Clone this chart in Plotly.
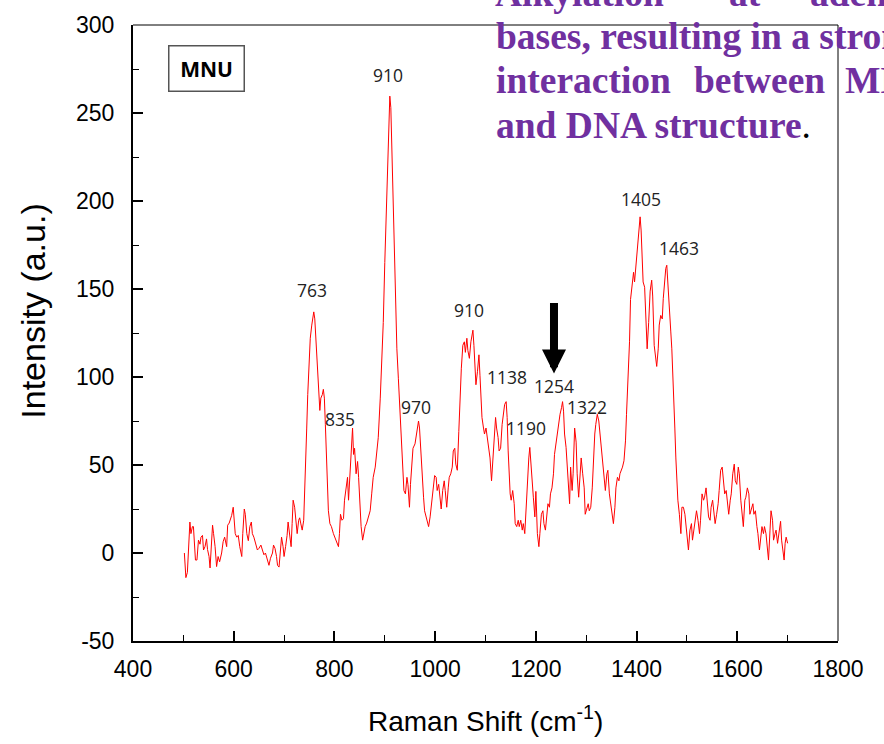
import plotly.graph_objects as go

# ---- data ----
wavenumber = [
    502, 503, 505, 508, 510, 513, 515, 518, 520, 522, 524, 527, 530, 533, 535, 538, 540, 543, 546, 548,
    551, 553, 556, 558, 560, 563, 566, 569, 572, 576, 579, 582, 586, 588, 591, 594, 596, 599, 601, 603,
    606, 609, 612, 616, 618, 621, 623, 626, 629, 632, 635, 637, 640, 643, 647, 650, 654, 657, 660, 663,
    667, 670, 673, 677, 679, 682, 685, 687, 690, 693, 695, 698, 700, 703, 706, 708, 711, 714, 716, 718,
    721, 724, 726, 729, 731,
    733, 736, 739, 741, 743, 745, 747, 750, 752, 755, 757, 759, 761, 762, 764, 766, 768, 770, 771, 773,
    776, 778, 780, 782, 785, 788, 791, 794, 798, 801, 804, 808, 810, 812, 815, 818, 820, 823, 826, 828,
    831, 834, 836, 838, 840, 843, 846, 848, 851, 853, 856, 858, 861, 864, 867, 871, 874, 877, 881, 884,
    887, 891, 894, 897, 900, 904, 906, 908, 910, 912, 914, 916, 919, 922, 924, 927, 930, 933, 936, 938,
    941, 944, 946, 949, 951, 954, 956, 960, 963, 967,
    969, 971, 974, 977, 979, 982, 985, 987, 990, 993, 996, 999, 1002, 1004, 1007, 1010, 1012, 1015, 1018, 1020,
    1023, 1026, 1028, 1031, 1034, 1036, 1039, 1041, 1044, 1047, 1049, 1052, 1055, 1058, 1060, 1063, 1065, 1068, 1071, 1073,
    1075, 1077, 1079, 1081, 1084, 1087, 1089, 1091, 1093, 1096, 1098, 1101, 1104, 1106, 1109, 1112, 1114, 1117, 1120, 1122,
    1125, 1127, 1130, 1133, 1135, 1138, 1141, 1143, 1145, 1147, 1149, 1151, 1154, 1157, 1159, 1162, 1165, 1167, 1170, 1173,
    1175, 1178, 1181, 1183, 1186, 1188,
    1192, 1195, 1198, 1200, 1203, 1206, 1208, 1211, 1214, 1216, 1219, 1222, 1224, 1227, 1229, 1232, 1235, 1237, 1240, 1243,
    1245, 1248, 1251, 1253, 1255, 1257, 1260, 1262, 1265, 1267, 1269, 1272, 1274, 1277, 1280, 1282, 1285, 1288, 1290, 1293,
    1296, 1298, 1301, 1304, 1306, 1309, 1312, 1314, 1317, 1319, 1322, 1325, 1327, 1330, 1333, 1335, 1338, 1341, 1343, 1346,
    1349, 1351, 1354, 1357, 1359, 1362, 1365, 1367, 1370, 1372, 1375, 1378, 1380, 1383, 1386, 1388, 1391, 1394, 1396, 1399,
    1402, 1404, 1407, 1409, 1411, 1413, 1416, 1419, 1421, 1424, 1427,
    1430, 1432, 1435, 1437, 1440, 1443, 1445, 1448, 1451, 1453, 1456, 1458, 1460, 1462, 1465, 1468, 1470, 1473, 1476, 1478,
    1480, 1482, 1485, 1488, 1490, 1493, 1496, 1498, 1501, 1503, 1506, 1509, 1511, 1514, 1517, 1519, 1522, 1525, 1527, 1530,
    1533, 1535, 1538, 1541, 1543, 1546, 1548, 1551, 1554, 1556, 1559, 1562, 1564, 1567, 1570, 1572, 1575, 1578, 1580, 1583,
    1586, 1588, 1591, 1594, 1596, 1599, 1602, 1604, 1607, 1609, 1612, 1615, 1617, 1620, 1623, 1625, 1628, 1631, 1633, 1636,
    1639, 1641, 1644, 1647, 1649, 1652, 1654, 1657, 1660, 1662, 1665, 1667, 1670, 1672, 1675, 1677, 1680, 1683, 1686, 1688,
    1691, 1693, 1695, 1697, 1700,
]
intensity = [
    0, -7.7, -14, -11, 1, 17.6, 11, 15, 15, 3.6, -4, -4, 7.3, 5, 9, 10, 1.7, 3.6, 8, 2,
    -2, -8.5, 7.3, 15.8, 11, 3.6, -7.7, -2, -5, 0, 6.4, 9, 3.6, 15.8, 17, 19.5, 21.4, 26, 18.6, 11,
    9, 10, 3.6, -2, 11, 25, 22, 11, 7, 15, 17.6, 11, 9, 5, 1.7, 2.6, 4.5, 1.7, -1, 0,
    -5, -7, -3, 0, 4.5, 2.6, -2, -7, -8, 3.6, 9, 3.6, -2, 3.6, 10, 17.6, 11, 3.6, 16.7, 30,
    26, 15, 11, 18.6, 20,
    17, 13, 18.6, 33.6, 52.4, 71, 90, 109, 122, 129.5, 135, 137, 133, 127.6, 114, 103, 90, 82.6, 81, 88,
    90, 93, 88, 73, 43, 24, 16.7, 15, 11, 9, 7.3, 3.6, 11, 22, 18.6, 19.5, 30, 37, 43, 30,
    45, 54, 71, 56, 59.5, 45, 52, 43, 26, 15, 7.3, 11, 15, 17, 20.5, 24, 33.6, 43, 48.8, 56,
    65.5, 88, 109, 131, 165, 202.7, 232.6, 249, 259.6, 253, 228, 198, 164, 135, 116, 99, 80.6, 62, 43, 35.5,
    33.6, 43, 39, 26, 39, 52, 59.5, 62, 67.6, 75,
    71, 60, 43, 31.7, 24, 20.5, 18.6, 15, 20.5, 28, 37, 44, 43, 35.5, 39, 31.7, 25, 35.5, 41, 35.5,
    26, 37, 43, 45, 48.8, 58, 59.5, 50.5, 47, 69, 86, 105, 118, 120, 114, 122, 115, 110.6, 120, 124.7,
    126.6, 118, 105, 95.6, 103, 112.6, 101, 84.4, 77, 71, 67.6, 71, 65.6, 62, 54, 41, 50.5, 69, 77, 71,
    65.6, 58, 59.5, 73, 78.8, 84.4, 86, 77, 58, 43, 33.6, 30, 35.5, 28, 16.7, 15, 18.6, 15, 18.6, 13,
    16.7, 11, 26, 43, 54, 60,
    41, 31.7, 20.5, 35, 11, 3.6, 11, 22, 24, 16.7, 13, 24, 28, 26, 33.6, 37, 45, 56, 63, 69,
    75, 78.8, 82.6, 86, 80.6, 67.6, 60, 48.8, 35.5, 28, 48.8, 35.5, 45, 71, 63, 45, 31.7, 45, 54, 45,
    37, 22, 26, 28, 24, 26, 37, 54, 67.6, 73, 78.8, 75, 69, 60, 52.4, 47, 35.5, 45, 47, 33.6,
    28, 24, 16.7, 26, 37, 43, 41, 45, 47, 48.8, 52.4, 63.7, 78.8, 97.5, 120, 144, 154, 159.5, 154, 165,
    176, 181.6, 191, 183.5, 166.6, 154, 151, 131, 116, 131, 148.8,
    155, 146, 118, 112.6, 106, 116, 129.5, 135, 133, 144.5, 156, 161.7, 163.5, 152, 135, 125.6, 116, 97.5, 71, 54,
    35.5, 30, 22, 11, 26, 26, 22, 15, 9, 1.7, 13, 16.7, 7.3, 13, 20.5, 24, 18.6, 11, 18.6, 33.6,
    30, 31.7, 37, 26, 20.5, 18.6, 26, 30, 20.5, 16.7, 22, 28, 35.5, 47, 48.8, 41, 33.6, 35.5, 30, 22,
    30, 33.6, 45, 50.5, 41, 39, 48.8, 45, 30, 22, 15, 30, 31.7, 37, 33.6, 22, 26, 28, 22, 24,
    15, 11, 1.7, 9, 15, 11, 15, 11, 3.6, -4, 13, 24, 18.6, 7.3, 11, 13, 5.5, 13, 18, 7.3,
    0, -4, 5.5, 9, 5.5,
]

peak_labels = ["910", "763", "835", "970", "910", "1138", "1190", "1254", "1322", "1405", "1463"]
peak_label_x = [906, 755, 811, 962, 1067, 1142, 1180, 1237, 1302, 1408, 1484]
peak_label_y = [271.8, 149.5, 76.3, 83, 137.9, 99.8, 71, 95, 82.8, 201.4, 173.4]

x_ticks = [400, 600, 800, 1000, 1200, 1400, 1600, 1800]
y_ticks = [-50, 0, 50, 100, 150, 200, 250, 300]

# ---- figure ----
L, R, T, B = 133, 46, 20, 103
W, H = 884, 744
PW, PH = W - L - R, H - T - B


def px(x):
    return (x - L) / PW


def py(y):
    return 1 - (y - T) / PH


fig = go.Figure()
fig.add_trace(go.Scatter(x=wavenumber, y=intensity, mode="lines",
                         line=dict(color="#ff0000", width=1), showlegend=False,
                         hoverinfo="skip"))

annotations = []
for t, xv, yv in zip(peak_labels, peak_label_x, peak_label_y):
    annotations.append(dict(x=xv, y=yv, xref="x", yref="y", text=t, showarrow=False,
                            font=dict(family="Open Sans", size=17.5, color="#222222"),
                            xanchor="center", yanchor="middle"))

# arrow pointing at 1254 band
annotations.append(dict(x=1236, y=102, xref="x", yref="y", text="", showarrow=True,
                        ax=0, ay=-72, arrowhead=2, arrowsize=0.6, arrowwidth=8,
                        arrowcolor="#000000"))

# MNU box
annotations.append(dict(x=px(206.5), y=py(64), xref="paper", yref="paper",
                        text="<b>MNU</b>", showarrow=False, width=74, height=44,
                        font=dict(family="Open Sans", size=21, color="#000000"),
                        bordercolor="#555555", borderwidth=1.5, borderpad=0,
                        bgcolor="white", xanchor="center", yanchor="middle"))

# axis titles
annotations.append(dict(x=px(33), y=py(308), xref="paper", yref="paper",
                        text="Intensity (a.u.)", textangle=-90, showarrow=False,
                        font=dict(family="Liberation Sans", size=34, color="#000000"),
                        xanchor="center", yanchor="middle"))
annotations.append(dict(x=px(485), y=py(720), xref="paper", yref="paper",
                        text="Raman Shift (cm<sup>-1</sup>)", showarrow=False,
                        font=dict(family="Liberation Sans", size=28, color="#000000"),
                        xanchor="center", yanchor="middle"))

# overlaid purple text from the slide
purple = "#7030a0"
serif = dict(family="Liberation Serif", size=37.5, color=purple)
text_items = [
    ("<b>Alkylation</b>", 493, -12),
    ("<b>at</b>", 727, -12),
    ("<b>adenine</b>", 808, -12),
    ("<b>bases, resulting in a strong</b>", 494, 32),
    ("<b>interaction</b>", 494, 76),
    ("<b>between</b>", 692, 76),
    ("<b>MNU</b>", 843, 76),
    ("<b>and DNA structure</b><span style='color:#000000'>.</span>", 494, 121),
]
for t, xp, yp in text_items:
    annotations.append(dict(x=px(xp), y=py(yp), xref="paper", yref="paper", text=t,
                            showarrow=False, font=serif, xanchor="left", yanchor="middle"))

fig.update_layout(
    width=W, height=H,
    margin=dict(l=L, r=R, t=T, b=B),
    paper_bgcolor="white", plot_bgcolor="white",
    annotations=annotations,
    shapes=[
        dict(type="line", xref="paper", yref="paper", x0=0, x1=1, y0=1, y1=1,
             line=dict(color="black", width=1)),
        dict(type="line", xref="paper", yref="paper", x0=1, x1=1, y0=0, y1=1,
             line=dict(color="black", width=1)),
    ],
)
fig.update_xaxes(range=[400, 1800], tickvals=x_ticks, ticktext=[str(v) for v in x_ticks],
                 ticks="inside", ticklen=10, tickwidth=1.5, tickcolor="black",
                 minor=dict(ticks="inside", ticklen=6, dtick=100, tick0=400, tickcolor="black", tickwidth=1.2),
                 showline=True, linewidth=2, linecolor="black", showgrid=False, zeroline=False,
                 tickfont=dict(family="Liberation Sans", size=23, color="black"),
                 ticklabelstandoff=6)
fig.update_yaxes(range=[-50, 300], tickvals=y_ticks, ticktext=[str(v) for v in y_ticks],
                 ticks="inside", ticklen=10, tickwidth=1.5, tickcolor="black",
                 minor=dict(ticks="inside", ticklen=6, dtick=25, tick0=0, tickcolor="black", tickwidth=1.2),
                 showline=True, linewidth=2, linecolor="black", showgrid=False, zeroline=False,
                 tickfont=dict(family="Liberation Sans", size=23, color="black"),
                 ticklabelstandoff=12)

fig.write_html("out.html")
